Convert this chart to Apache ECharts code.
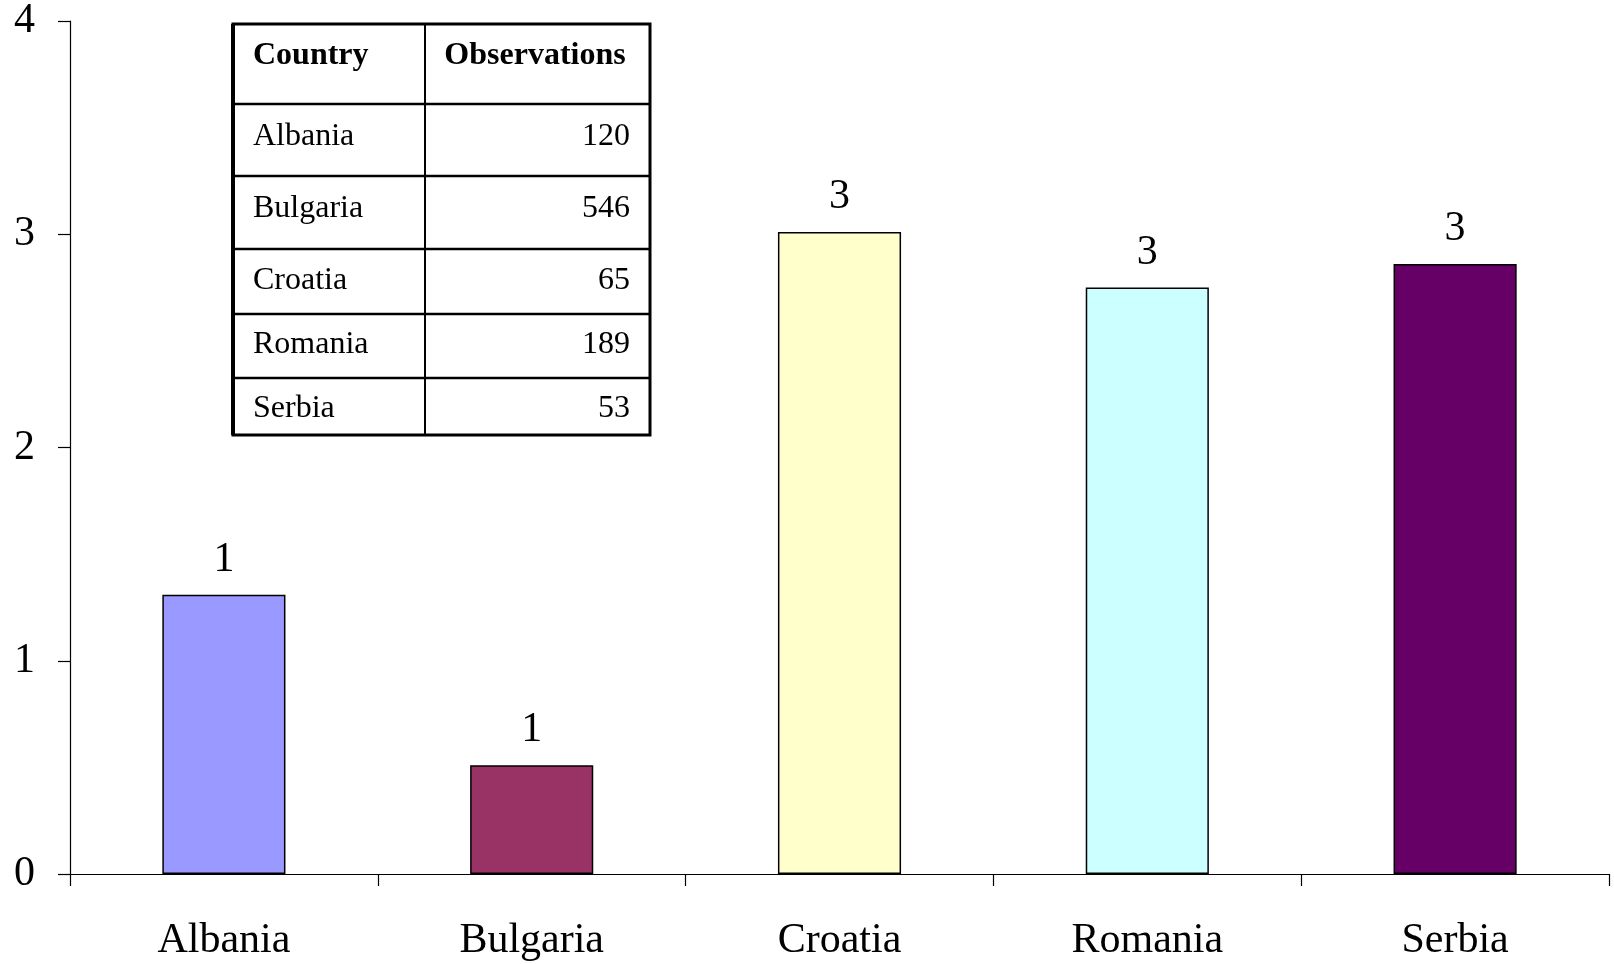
<!DOCTYPE html>
<html>
<head>
<meta charset="utf-8">
<style>
  html, body { margin: 0; padding: 0; background: #fff; }
  #chart { width: 1614px; height: 964px; }
</style>
<script src="https://cdn.jsdelivr.net/npm/echarts@6/dist/echarts.min.js"></script>
</head>
<body>
<div id="chart"></div>
<script>
// Bar chart values per country
const categories = ['Albania', 'Bulgaria', 'Croatia', 'Romania', 'Serbia'];
const values = [1.31, 0.51, 3.01, 2.75, 2.86];
const yTickValues = [0, 1, 2, 3, 4];

// Inset table contents
const tableHeader = ['Country', 'Observations'];
const tableCountries = ['Albania', 'Bulgaria', 'Croatia', 'Romania', 'Serbia'];
const tableObservations = [120, 546, 65, 189, 53];

// Bar fill colours, one per country
const barColors = ['#9999FF', '#993366', '#FFFFCC', '#CCFFFF', '#660066'];

const FONT = "'Liberation Serif', 'Times New Roman', serif";

// Inset table layout (pixels)
const tblLeft = 233, tblRight = 650, tblMid = 425;
const rowEdges = [24, 104, 176, 249, 314, 378, 435];
const rowTextY = [56, 137, 209, 281, 345, 409];

function buildTable() {
  const els = [];
  els.push({
    type: 'rect',
    shape: { x: tblLeft, y: rowEdges[0], width: tblRight - tblLeft, height: rowEdges[rowEdges.length - 1] - rowEdges[0] },
    style: { fill: '#fff', stroke: '#000', lineWidth: 3 },
    z: 10
  });
  // thicker left edge
  els.push({
    type: 'line',
    shape: { x1: tblLeft, y1: rowEdges[0], x2: tblLeft, y2: rowEdges[rowEdges.length - 1] },
    style: { stroke: '#000', lineWidth: 4 },
    z: 11
  });
  els.push({
    type: 'line',
    shape: { x1: tblMid, y1: rowEdges[0], x2: tblMid, y2: rowEdges[rowEdges.length - 1] },
    style: { stroke: '#000', lineWidth: 2 },
    z: 11
  });
  for (let i = 1; i < rowEdges.length - 1; i++) {
    els.push({
      type: 'line',
      shape: { x1: tblLeft, y1: rowEdges[i], x2: tblRight, y2: rowEdges[i] },
      style: { stroke: '#000', lineWidth: 2.5 },
      z: 11
    });
  }
  const textStyle = (txt, align, bold) => ({
    text: txt,
    fontSize: 32,
    fontFamily: FONT,
    fontWeight: bold ? 'bold' : 'normal',
    fill: '#000',
    align: align,
    verticalAlign: 'middle',
    textAlign: align,
    textVerticalAlign: 'middle'
  });
  // header
  els.push({ type: 'text', x: 253, y: rowTextY[0], style: textStyle(tableHeader[0], 'left', true), z: 12 });
  els.push({ type: 'text', x: 535, y: rowTextY[0], style: textStyle(tableHeader[1], 'center', true), z: 12 });
  // rows
  tableCountries.forEach((c, i) => {
    const cy = rowTextY[i + 1];
    els.push({ type: 'text', x: 253, y: cy, style: textStyle(c, 'left', false), z: 12 });
    els.push({ type: 'text', x: 630, y: cy, style: textStyle(String(tableObservations[i]), 'right', false), z: 12 });
  });
  return els;
}

const chart = echarts.init(document.getElementById('chart'), null, { renderer: 'canvas' });

chart.setOption({
  animation: false,
  backgroundColor: '#fff',
  grid: { left: 70, right: 5, top: 21, bottom: 90, containLabel: false },
  xAxis: {
    type: 'category',
    data: categories,
    boundaryGap: true,
    axisLine: { show: true, lineStyle: { color: '#000', width: 1.2 } },
    axisTick: { show: true, alignWithLabel: false, length: 12, lineStyle: { color: '#000', width: 1.2 } },
    axisLabel: { color: '#000', fontSize: 42, fontFamily: FONT, margin: 46 },
    splitLine: { show: false }
  },
  yAxis: {
    type: 'value',
    min: yTickValues[0],
    max: yTickValues[yTickValues.length - 1],
    interval: 1,
    axisLine: { show: true, lineStyle: { color: '#000', width: 1.2 } },
    axisTick: { show: true, length: 12, lineStyle: { color: '#000', width: 1.2 } },
    axisLabel: { color: '#000', fontSize: 42, fontFamily: FONT, margin: 35 },
    splitLine: { show: false }
  },
  series: [{
    type: 'bar',
    barWidth: '40%',
    data: values.map((v, i) => ({
      value: v,
      itemStyle: { color: barColors[i], borderColor: '#000', borderWidth: 1.5 }
    })),
    label: {
      show: true,
      position: 'top',
      distance: 14,
      color: '#000',
      fontSize: 42,
      fontFamily: FONT,
      formatter: p => String(Math.round(p.value))
    }
  }],
  graphic: buildTable()
});
</script>
</body>
</html>
